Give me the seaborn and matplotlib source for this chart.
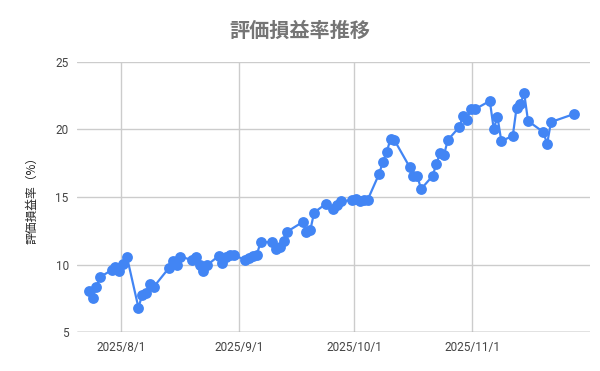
import matplotlib
matplotlib.use("Agg")
import matplotlib.pyplot as plt
import seaborn as sns
import pandas as pd

# ---- data ----
dates = [
    "2025-07-23", "2025-07-24", "2025-07-25", "2025-07-26",
    "2025-07-29", "2025-07-30", "2025-07-31", "2025-08-01", "2025-08-02",
    "2025-08-05", "2025-08-06", "2025-08-07", "2025-08-08", "2025-08-09",
    "2025-08-13", "2025-08-14", "2025-08-15", "2025-08-16",
    "2025-08-19", "2025-08-20", "2025-08-21", "2025-08-22", "2025-08-23",
    "2025-08-26", "2025-08-27", "2025-08-28", "2025-08-29", "2025-08-30",
    "2025-09-02", "2025-09-03", "2025-09-04", "2025-09-05", "2025-09-06",
    "2025-09-09", "2025-09-10", "2025-09-11", "2025-09-12", "2025-09-13",
    "2025-09-17", "2025-09-18", "2025-09-19", "2025-09-20",
    "2025-09-23", "2025-09-25", "2025-09-26", "2025-09-27",
    "2025-09-30", "2025-10-01", "2025-10-02", "2025-10-03", "2025-10-04",
    "2025-10-07", "2025-10-08", "2025-10-09", "2025-10-10", "2025-10-11",
    "2025-10-15", "2025-10-16", "2025-10-17", "2025-10-18",
    "2025-10-21", "2025-10-22", "2025-10-23", "2025-10-24", "2025-10-25",
    "2025-10-28", "2025-10-29", "2025-10-30", "2025-10-31", "2025-11-01",
    "2025-11-05", "2025-11-06", "2025-11-07", "2025-11-08",
    "2025-11-11", "2025-11-12", "2025-11-13", "2025-11-14", "2025-11-15",
    "2025-11-19", "2025-11-20", "2025-11-21",
    "2025-11-27",
]
rates = [
    8.05, 7.54, 8.35, 9.09,
    9.60, 9.86, 9.53, 10.05, 10.57,
    6.83, 7.76, 7.94, 8.60, 8.35,
    9.76, 10.30, 10.00, 10.60,
    10.34, 10.56, 9.97, 9.53, 9.97,
    10.64, 10.12, 10.57, 10.75, 10.71,
    10.34, 10.49, 10.64, 10.75, 11.67,
    11.67, 11.12, 11.34, 11.78, 12.45,
    13.15, 12.41, 12.56, 13.85,
    14.48, 14.11, 14.41, 14.67,
    14.78, 14.82, 14.74, 14.78, 14.78,
    16.70, 17.59, 18.33, 19.29, 19.21,
    17.22, 16.55, 16.55, 15.59,
    16.55, 17.44, 18.26, 18.11, 19.21,
    20.17, 20.99, 20.69, 21.50, 21.47,
    22.10, 20.06, 20.91, 19.14,
    19.51, 21.60, 21.90, 22.65, 20.62,
    19.80, 18.92, 20.54,
    21.13,
]
x_ticks = ["2025-08-01", "2025-09-01", "2025-10-01", "2025-11-01"]
x_tick_labels = ["2025/8/1", "2025/9/1", "2025/10/1", "2025/11/1"]
y_ticks = [5, 10, 15, 20, 25]

title = "評価損益率推移"
ylabel = "評価損益率（%）"

# records are time-stamped in the evening of each day
df = pd.DataFrame({"date": pd.to_datetime(dates) + pd.Timedelta(hours=14),
                   "rate": rates})

sns.set_theme(style="white")
plt.rcParams["font.family"] = ["Roboto", "Noto Sans CJK JP", "DejaVu Sans"]
cjk = ["Noto Sans CJK JP", "DejaVu Sans"]

fig = plt.figure(figsize=(6.0, 3.71), dpi=100)
ax = fig.add_axes([0.1283, 0.1043, 0.855, 0.7294])

sns.lineplot(data=df, x="date", y="rate", ax=ax, color="#4285F4",
             linewidth=1.6, marker="o", markersize=7.8,
             markeredgewidth=0, markerfacecolor="#4285F4", zorder=3)

t0 = pd.Timestamp("2025-08-01")
ax.set_xlim(t0 - pd.Timedelta(days=11.5), t0 + pd.Timedelta(days=122.8))
ax.set_ylim(5, 25)

ax.set_xticks(pd.to_datetime(x_ticks))
ax.set_xticklabels(x_tick_labels)
ax.set_yticks(y_ticks)
ax.set_yticklabels([str(v) for v in y_ticks])

ax.grid(True, color="#cccccc", linewidth=1.0, zorder=0)
for s in ["top", "right", "left", "bottom"]:
    ax.spines[s].set_visible(False)
ax.axhline(5, color="#999999", linewidth=1.0, zorder=1)

ax.tick_params(axis="both", length=0, labelsize=8.5, labelcolor="#444444")
ax.tick_params(axis="x", pad=6)
ax.tick_params(axis="y", pad=6)

ax.set_xlabel("")
ax.set_ylabel(ylabel, family=cjk, fontsize=8.5, color="#222222", labelpad=12)

fig.text(0.5, 0.918, title, ha="center", va="center", fontsize=14.5,
         fontweight="bold", color="#757575", family=cjk)

fig.savefig("out.png", dpi=100)
